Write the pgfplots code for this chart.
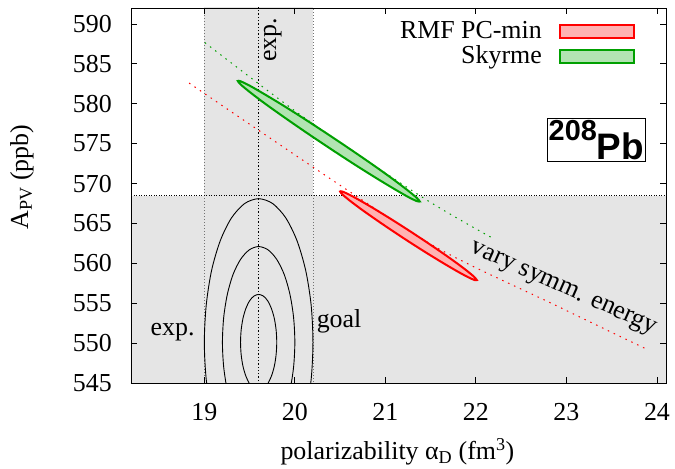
\documentclass[border=0pt]{standalone}
\usepackage{pgfplots}
\pgfplotsset{compat=1.18}
\usepackage{fontspec}
\setmainfont{Liberation Serif}
\setsansfont{Liberation Sans}
\definecolor{bandgray}{RGB}{229,229,229}
\definecolor{rfill}{RGB}{255,178,178}
\definecolor{gfill}{RGB}{178,228,178}
\definecolor{gline}{RGB}{0,160,0}
\definecolor{rline}{RGB}{255,0,0}
\begin{document}
\fontsize{26}{31}\selectfont
\begin{tikzpicture}[font=\rmfamily\mdseries]
\begin{axis}[
  scale only axis, width=535bp, height=375bp,
  xmin=18.19, xmax=24.1, ymin=545, ymax=592,
  xtick={19,20,21,22,23,24}, ytick={545,550,...,590},
  xticklabels={19,20,21,22,23,24},
  yticklabels={545,550,555,560,565,570,575,580,585,590},
  tick align=inside, major tick length=6bp,
  axis line style={line width=0.9bp},
  every tick/.style={black, line width=0.9bp},
  axis on top,
  x tick label style={anchor=north, inner sep=0pt, yshift=-20bp, font=\rmfamily\mdseries},
  y tick label style={anchor=east, inner sep=0pt, xshift=-19bp, font=\rmfamily\mdseries},
  xlabel={polarizability α\textsubscript{D} (fm\textsuperscript{3})},
  xlabel style={at={(axis description cs:0.498,-0.2053)}, anchor=base, inner sep=0pt},
  ylabel={A\textsubscript{PV} (ppb)},
  ylabel style={at={(axis description cs:-0.2037,0.549)}, anchor=center, inner sep=0pt},
  legend style={at={(axis description cs:1,1)}, anchor=north east, xshift=-31bp, yshift=-13bp,
    draw=none, fill=none, inner sep=0pt, column sep=17bp, row sep=3bp,
    nodes={inner sep=0pt, font=\rmfamily\mdseries}},
  legend cell align=right, legend plot pos=right,
  legend image code/.code={\draw[#1] (0bp,-6.5bp) rectangle (74bp,6.5bp);},
]
% shaded bands
\addplot[fill=bandgray, draw=none, forget plot] coordinates {(18,544) (25,544) (25,568.5) (18,568.5)} -- cycle;
\addplot[fill=bandgray, draw=none, forget plot] coordinates {(19,544) (20.2,544) (20.2,593) (19,593)} -- cycle;
% dotted guide lines
\addplot[black!55, line width=0.8bp, dash pattern=on 1bp off 2bp, forget plot] coordinates {(19,544) (19,593)};
\addplot[black!55, line width=0.8bp, dash pattern=on 1bp off 2bp, forget plot] coordinates {(20.2,544) (20.2,593)};
\addplot[black, line width=0.9bp, dash pattern=on 1.3bp off 2bp, forget plot] coordinates {(19.6,544) (19.6,593)};
\addplot[black, line width=0.9bp, dash pattern=on 1bp off 1.5bp, forget plot] coordinates {(18,568.5) (25,568.5)};
% goal ellipses
\addplot[black, line width=0.9bp, smooth, forget plot] coordinates {(19.600,544.10) (19.652,544.31) (19.700,544.90) (19.741,545.86) (19.773,547.10) (19.793,548.55) (19.800,550.10) (19.793,551.65) (19.773,553.10) (19.741,554.34) (19.700,555.30) (19.652,555.90) (19.600,556.10) (19.548,555.90) (19.500,555.30) (19.459,554.34) (19.427,553.10) (19.407,551.65) (19.400,550.10) (19.407,548.55) (19.427,547.10) (19.459,545.86) (19.500,544.90) (19.548,544.31) (19.600,544.10)};
\addplot[black, line width=0.9bp, smooth, forget plot] coordinates {(19.883,541.62) (19.946,544.10) (19.986,547.00) (20.000,550.10) (19.986,553.21) (19.946,556.10) (19.883,558.59) (19.800,560.49) (19.704,561.69) (19.600,562.10) (19.497,561.69) (19.400,560.49) (19.317,558.59) (19.254,556.10) (19.214,553.21) (19.200,550.10) (19.214,547.00) (19.254,544.10) (19.317,541.62)};
\addplot[black, line width=0.9bp, smooth, forget plot] coordinates {(20.120,541.10) (20.180,545.44) (20.200,550.10) (20.180,554.76) (20.120,559.10) (20.024,562.83) (19.900,565.69) (19.755,567.49) (19.600,568.10) (19.445,567.49) (19.300,565.69) (19.176,562.83) (19.080,559.10) (19.021,554.76) (19.000,550.10) (19.021,545.44) (19.080,541.10)};
% symmetry-energy variation lines
\addplot[rline, line width=1bp, dash pattern=on 1.5bp off 5bp, smooth, forget plot] coordinates {(18.832,582.59) (20.516,569.66) (21.602,561.75) (22.854,554.88) (23.867,549.34)};
\addplot[gline, line width=1bp, dash pattern=on 1.5bp off 5bp, smooth, forget plot] coordinates {(19.006,587.66) (20.110,578.21) (21.418,568.21) (22.210,563.0)};
% model ellipses
\addplot[draw=rline, fill=rfill, line width=2bp, smooth] coordinates {(22.010,557.90) (21.984,558.27) (21.909,558.99) (21.789,560.02) (21.633,561.28) (21.450,562.69) (21.255,564.15) (21.060,565.56) (20.878,566.83) (20.721,567.87) (20.601,568.61) (20.526,568.99) (20.500,569.00) (20.526,568.63) (20.601,567.91) (20.721,566.88) (20.878,565.62) (21.060,564.21) (21.255,562.75) (21.450,561.34) (21.633,560.07) (21.789,559.03) (21.909,558.29) (21.984,557.91) (22.010,557.90)} -- cycle;
\addlegendentry{\rmfamily RMF PC-min}
\addplot[draw=gline, fill=gfill, line width=2bp, smooth] coordinates {(21.380,567.75) (21.346,568.21) (21.245,569.16) (21.086,570.53) (20.878,572.22) (20.635,574.12) (20.375,576.10) (20.115,578.03) (19.873,579.77) (19.664,581.20) (19.505,582.24) (19.404,582.80) (19.370,582.85) (19.404,582.39) (19.505,581.44) (19.664,580.07) (19.873,578.38) (20.115,576.48) (20.375,574.50) (20.635,572.57) (20.878,570.83) (21.086,569.40) (21.245,568.36) (21.346,567.80) (21.380,567.75)} -- cycle;
\addlegendentry{\rmfamily Skyrme}
% labels
\node[rotate=90] at (axis cs:19.757,588.0) {exp.};
\node[anchor=base east, inner sep=0pt] at (axis cs:18.895,550.9) {exp.};
\node[anchor=base west, inner sep=0pt] at (axis cs:20.24,551.96) {goal};
\node[rotate=-24] at (axis cs:22.965,556.75) {vary symm. energy};
\coordinate (pbpos) at (axis cs:23.331,575.5);
\end{axis}
\node[draw, line width=0.8bp, inner sep=1.5bp] at (pbpos) {\sffamily\bfseries\fontsize{29}{29}\selectfont\raisebox{19bp}{208}\fontsize{37}{37}\selectfont Pb};
\pgfresetboundingbox
\path ([shift={(-131bp,-86bp)}]current axis.south west) rectangle ([shift={(9bp,8bp)}]current axis.north east);
\end{tikzpicture}
\end{document}
